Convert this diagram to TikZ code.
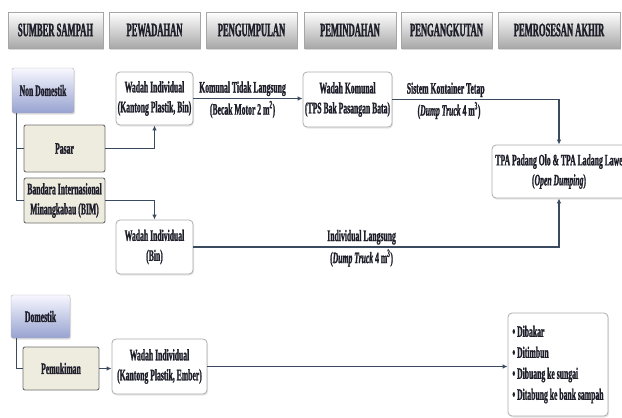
\documentclass[tikz,border=0pt]{standalone}
\usepackage{fontspec}
\newfontfamily\hdrfont[FakeStretch=0.45, FakeBold=1.4, UprightFont={Liberation Serif Bold}]{Liberation Serif}
\newfontfamily\boxfont[FakeStretch=0.48, FakeBold=1.2, UprightFont={Liberation Serif Bold}, ItalicFont={Liberation Serif Bold Italic}]{Liberation Serif}
\usepackage{tikz}
\usetikzlibrary{arrows.meta, shadows}
\definecolor{flowline}{HTML}{3A4B60}
\definecolor{textdark}{HTML}{1E1E2A}
\definecolor{srcbottom}{HTML}{97A2D0}
\definecolor{placefill}{HTML}{EEEBDF}

\begin{document}
\begin{tikzpicture}[x=1pt, y=-1pt,
    header/.style={draw=gray!70, top color=white, bottom color=gray!68, minimum height=36pt, inner sep=0pt,
      drop shadow={opacity=0.3, shadow xshift=1pt, shadow yshift=-1.5pt},
      font=\hdrfont\fontsize{19}{19}\selectfont, text=textdark},
    source/.style={draw=gray!60, rounded corners=2pt, top color=blue!3!white, bottom color=srcbottom, inner sep=0pt,
      drop shadow={opacity=0.25, shadow xshift=1pt, shadow yshift=-1.5pt},
      font=\boxfont\fontsize{16}{20}\selectfont, text=textdark},
    place/.style={draw=gray!85!black, line width=0.9pt, rounded corners=2pt, fill=placefill, inner sep=0pt, align=center,
      font=\boxfont\fontsize{16}{20}\selectfont, text=textdark},
    stagebox/.style={draw=gray!65, line width=0.8pt, rounded corners=4pt, fill=white, inner sep=0pt, align=center,
      drop shadow={opacity=0.2, shadow xshift=1pt, shadow yshift=-1.5pt},
      font=\boxfont\fontsize{16}{20}\selectfont, text=textdark},
    lbl/.style={inner sep=1.5pt, font=\boxfont\fontsize{16}{17}\selectfont, text=textdark},
    flow/.style={draw=flowline, line width=1.9pt, -{Latex[length=5pt, width=4.5pt]}},
    branch/.style={draw=flowline, line width=1.3pt}
  ]
  \useasboundingbox (0,0) rectangle (622,418);
  % Stage headers
  \node[header, minimum width=95pt] (hsumber) at (55.5,30) {SUMBER SAMPAH};
  \node[header, minimum width=91pt] (hwadah) at (154.5,30) {PEWADAHAN};
  \node[header, minimum width=91pt] (hkumpul) at (251.5,30) {PENGUMPULAN};
  \node[header, minimum width=92pt] (hpindah) at (350,30) {PEMINDAHAN};
  \node[header, minimum width=91pt] (hangkut) at (446.5,30) {PENGANGKUTAN};
  \node[header, minimum width=122pt] (hproses) at (559,30) {PEMROSESAN AKHIR};
  % Non domestic sources
  \node[source, minimum width=62pt, minimum height=45pt] (nondom) at (43,90.5) {Non Domestik};
  \node[place, minimum width=81pt, minimum height=47pt] (pasar) at (64.5,148.5) {Pasar};
  \node[place, minimum width=81pt, minimum height=45pt] (bim) at (64.5,200.5) {Bandara Internasional\\Minangkabau (BIM)};
  % Containers, transfer and final processing
  \node[stagebox, minimum width=77pt, minimum height=53pt] (wadahnd) at (154.5,98.5) {Wadah Individual\\(Kantong Plastik, Bin)};
  \node[stagebox, minimum width=89pt, minimum height=55pt] (komunal) at (347.5,99.5) {Wadah Komunal\\(TPS Bak Pasangan Bata)};
  \node[stagebox, minimum width=77pt, minimum height=54pt] (wadahbin) at (154.5,247) {Wadah Individual\\(Bin)};
  \node[stagebox, minimum width=134pt, minimum height=53pt] (tpa) at (559,171.5) {TPA Padang Olo \& TPA Ladang Lawe\\(\textit{Open Dumping})};
  % Domestic source
  \node[source, minimum width=59pt, minimum height=43pt] (dom) at (40.5,316.5) {Domestik};
  \node[place, minimum width=76pt, minimum height=43pt] (mukim) at (61,368.5) {Pemukiman};
  \node[stagebox, minimum width=95pt, minimum height=55pt] (wadahdom) at (159.5,366.5) {Wadah Individual\\(Kantong Plastik, Ember)};
  \node[stagebox, minimum width=100pt, minimum height=103pt, align=left, font=\boxfont\fontsize{16}{21}\selectfont] (akhirdom) at (558,364.5)
    {\textbullet\ Dibakar\\\textbullet\ Ditimbun\\\textbullet\ Dibuang ke sungai\\\textbullet\ Ditabung ke bank sampah};
  % Source trees
  \draw[branch] ([xshift=5pt]nondom.south west) |- (pasar.west);
  \draw[branch] ([xshift=5pt]nondom.south west) |- (bim.west);
  \draw[branch] ([xshift=6pt]dom.south west) |- (mukim.west);
  % Flows
  \draw[flow] (pasar.east) -| (wadahnd.south);
  \draw[flow] (bim.east) -| (wadahbin.north);
  \draw[flow] (wadahnd.east) -- (wadahnd.east -| komunal.west)
    node[lbl, above, pos=0.45] {Komunal Tidak Langsung}
    node[lbl, below, pos=0.45] {(Becak Motor 2 m\textsuperscript{2})};
  \draw[flow] (komunal.east) -| (tpa.north)
    node[lbl, above, pos=0.16] {Sistem Kontainer Tetap}
    node[lbl, below, pos=0.17] {(\textit{Dump Truck} 4 m\textsuperscript{3})};
  \draw[flow] (wadahbin.east) -| (tpa.south)
    node[lbl, above, pos=0.23] {Individual Langsung}
    node[lbl, below, pos=0.23] {(\textit{Dump Truck} 4 m\textsuperscript{3})};
  \draw[flow] (mukim.east) -- (mukim.east -| wadahdom.west);
  \draw[flow] (wadahdom.east) -- (wadahdom.east -| akhirdom.west);
\end{tikzpicture}
\end{document}
